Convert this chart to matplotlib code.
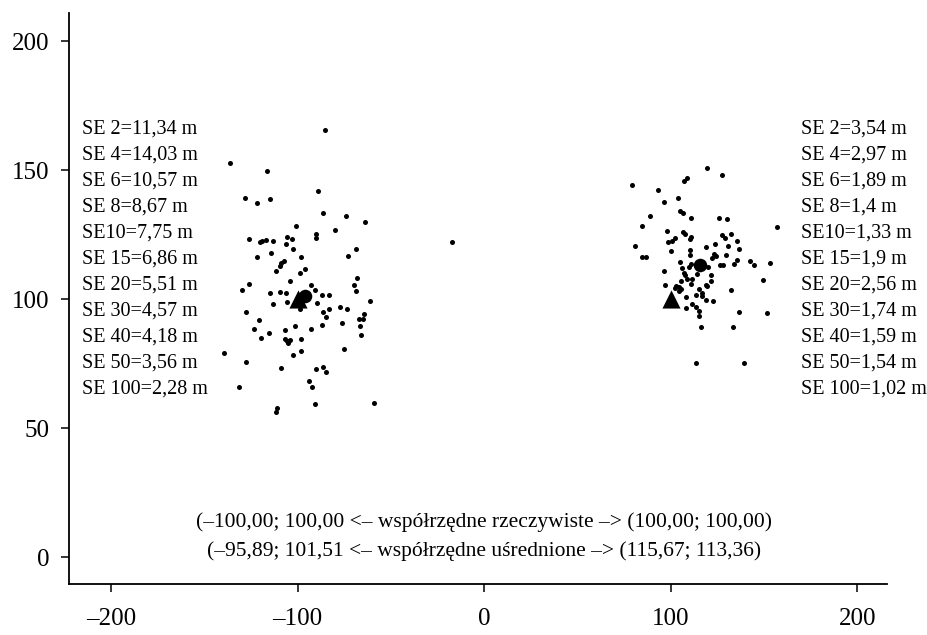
import matplotlib.pyplot as plt

plt.rcParams['font.family'] = ['Liberation Serif', 'DejaVu Serif']

# left cluster (true point -100;100)
left_x = [-85.4, -136.0, -116.5, -128.3, -121.7, -115.0, -89.1, -86.5, -74.1, -64.1,
          -100.8, -79.9, -90.0, -90.2, -126.0, -120.1, -119.0, -116.9, -113.1, -105.4,
          -103.1, -106.3, -102.4, -114.3, -121.7, -98.1, -68.4, -72.7, -107.5, -109.1,
          -109.5, -96.1, -98.8, -111.8, -68.2, -103.8, -69.7, -68.6, -125.8, -129.9,
          -114.7, -109.4, -106.3, -92.7, -90.4, -86.8, -83.1, -89.5, -61.1, -113.1,
          -105.6, -98.8, -127.6, -86.3, -83.2, -77.5, -73.4, -84.5, -64.5, -67.1,
          -64.8, -120.6, -75.9, -87.0, -66.4, -101.1, -123.1, -106.5, -93.0, -115.3,
          -66.2, -119.7, -98.4, -106.5, -105.4, -104.1, -105.1, -98.2, -102.2, -75.2,
          -139.5, -127.7, -108.8, -90.2, -86.1, -84.5, -94.1, -92.4, -131.3, -90.7,
          -59.1, -111.0, -111.5, -17.3]
left_y = [165.6, 153.0, 149.6, 139.3, 137.2, 138.8, 141.9, 133.6, 132.4, 130.0,
          128.3, 127.0, 125.3, 123.8, 123.5, 122.4, 122.5, 123.1, 122.5, 124.0,
          123.5, 121.4, 119.5, 118.1, 116.3, 116.6, 119.7, 116.9, 114.8, 114.0,
          112.9, 111.9, 110.1, 110.9, 108.3, 107.2, 105.7, 103.1, 105.8, 103.6,
          102.4, 103.0, 102.4, 105.4, 103.5, 101.7, 101.8, 98.5, 99.5, 98.2,
          99.1, 96.2, 95.1, 95.3, 96.4, 96.9, 96.4, 93.0, 94.2, 92.5,
          92.6, 92.2, 91.0, 90.2, 89.8, 89.8, 88.4, 88.0, 88.4, 86.8,
          86.3, 84.9, 84.8, 84.6, 83.8, 84.2, 83.3, 80.2, 78.4, 80.9,
          79.1, 75.9, 73.3, 73.1, 73.9, 72.0, 68.2, 66.0, 66.0, 59.4,
          59.7, 58.1, 56.3, 122.1]

# right cluster (true point 100;100)
right_x = [119.6, 127.5, 79.3, 93.4, 108.8, 107.3, 103.9, 96.3, 105.0, 106.8,
           88.9, 111.1, 125.9, 130.4, 84.8, 156.9, 97.9, 106.6, 107.9, 110.7,
           110.4, 127.4, 129.0, 132.4, 102.3, 100.9, 98.6, 135.4, 81.0, 119.0,
           123.9, 130.9, 136.7, 110.4, 100.2, 84.8, 86.6, 110.2, 123.4, 124.3,
           122.2, 129.7, 104.8, 135.7, 142.7, 144.5, 153.3, 120.2, 106.2, 110.0,
           126.5, 128.2, 134.0, 96.4, 110.9, 107.7, 107.0, 114.0, 121.8, 108.9,
           111.3, 121.8, 149.5, 105.4, 97.0, 103.0, 104.5, 102.3, 105.5, 104.3,
           110.9, 119.0, 119.6, 132.2, 115.0, 113.4, 117.0, 116.8, 108.1, 119.1,
           122.9, 111.3, 108.4, 113.7, 115.2, 136.5, 151.8, 115.4, 116.3, 133.4,
           113.6, 139.5]
right_y = [150.9, 148.3, 144.2, 142.5, 147.0, 146.0, 139.3, 137.6, 134.4, 133.6,
           132.2, 131.4, 131.4, 131.3, 128.4, 128.2, 126.7, 126.0, 125.2, 124.3,
           123.5, 124.9, 123.9, 125.3, 123.9, 122.5, 122.4, 122.6, 120.7, 120.5,
           121.6, 120.8, 119.5, 119.1, 118.6, 116.3, 116.4, 117.3, 117.6, 116.7,
           116.2, 117.4, 114.5, 115.1, 114.7, 113.3, 114.2, 112.5, 112.1, 112.4,
           113.2, 113.3, 113.8, 111.1, 113.6, 109.3, 110.4, 110.0, 109.4, 107.8,
           107.9, 107.0, 107.5, 107.1, 105.4, 105.2, 104.8, 104.3, 104.0, 103.2,
           105.8, 105.7, 105.2, 103.5, 104.0, 101.9, 102.6, 101.3, 101.0, 99.7,
           99.5, 98.3, 96.8, 97.0, 95.7, 95.0, 94.6, 93.7, 89.4, 89.3,
           75.3, 75.3]

true_x = [-100.00, 100.00]
true_y = [100.00, 100.00]
mean_x = [-95.89, 115.67]
mean_y = [101.51, 113.36]

se_left = ['SE 2=11,34 m', 'SE 4=14,03 m', 'SE 6=10,57 m', 'SE 8=8,67 m', 'SE10=7,75 m',
           'SE 15=6,86 m', 'SE 20=5,51 m', 'SE 30=4,57 m', 'SE 40=4,18 m', 'SE 50=3,56 m',
           'SE 100=2,28 m']
se_right = ['SE 2=3,54 m', 'SE 4=2,97 m', 'SE 6=1,89 m', 'SE 8=1,4 m', 'SE10=1,33 m',
            'SE 15=1,9 m', 'SE 20=2,56 m', 'SE 30=1,74 m', 'SE 40=1,59 m', 'SE 50=1,54 m',
            'SE 100=1,02 m']

xticks = [-200, -100, 0, 100, 200]
xtick_labels = ['\u2013200', '\u2013100', '0', '100', '200']
yticks = [0, 50, 100, 150, 200]

fig = plt.figure(figsize=(9.28, 6.35), dpi=100)
ax = fig.add_axes([0.0744, 0.0803, 0.8814, 0.8992])

ax.scatter(left_x, left_y, s=13, color='black', linewidths=0, zorder=2)
ax.scatter(right_x, right_y, s=13, color='black', linewidths=0, zorder=2)
ax.scatter(true_x, true_y, s=170, marker='^', color='black', linewidths=0, zorder=3)
ax.scatter(mean_x, mean_y, s=95, marker='o', color='black', linewidths=0, zorder=3)

# SE lists, one line every ~10 units
for i, s in enumerate(se_left):
    ax.text(-215.7, 166 - i * 10.08, s, fontsize=14.5, va='center', ha='left')
for i, s in enumerate(se_right):
    ax.text(170.0, 166 - i * 10.08, s, fontsize=14.5, va='center', ha='left')

ax.text(0, 13.6, '(\u2013100,00; 100,00 <\u2013 współrzędne rzeczywiste \u2013> (100,00; 100,00)',
        fontsize=15.5, ha='center', va='center')
ax.text(0, 2.3, '(\u201395,89; 101,51 <\u2013 współrzędne uśrednione \u2013> (115,67; 113,36)',
        fontsize=15.5, ha='center', va='center')

ax.set_xlim(-222.5, 216)
ax.set_ylim(-10.3, 211)
ax.set_xticks(xticks)
ax.set_xticklabels(xtick_labels)
ax.set_yticks(yticks)
ax.tick_params(labelsize=18, length=6, width=1.1, direction='out')
ax.tick_params(axis='x', pad=11)
ax.tick_params(axis='y', pad=8)
for side in ['top', 'right']:
    ax.spines[side].set_visible(False)
for side in ['left', 'bottom']:
    ax.spines[side].set_linewidth(1.3)

plt.savefig('out.png')
